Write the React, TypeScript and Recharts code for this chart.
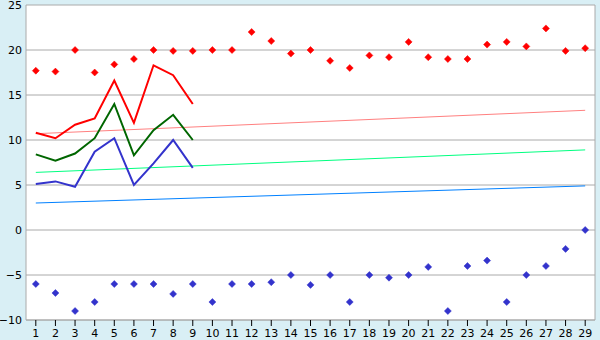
import React from 'react';
import {
  ComposedChart,
  Line,
  Scatter,
  XAxis,
  YAxis,
  CartesianGrid,
  ReferenceLine,
} from 'recharts';

const days = [
  1, 2, 3, 4, 5, 6, 7, 8, 9, 10, 11, 12, 13, 14, 15, 16, 17, 18, 19, 20, 21, 22, 23, 24, 25, 26, 27, 28, 29,
];

const maxPoints = [
  17.7, 17.6, 20.0, 17.5, 18.4, 19.0, 20.0, 19.9, 19.9, 20.0, 20.0, 22.0, 21.0, 19.6, 20.0,
  18.8, 18.0, 19.4, 19.2, 20.9, 19.2, 19.0, 19.0, 20.6, 20.9, 20.4, 22.4, 19.9, 20.2,
];

const minPoints = [
  -6.0, -7.0, -9.0, -8.0, -6.0, -6.0, -6.0, -7.1, -6.0, -8.0, -6.0, -6.0, -5.8, -5.0, -6.1,
  -5.0, -8.0, -5.0, -5.3, -5.0, -4.1, -9.0, -4.0, -3.4, -8.0, -5.0, -4.0, -2.1, 0.0,
];

const highLine = [10.8, 10.2, 11.7, 12.4, 16.6, 11.9, 18.3, 17.2, 14.0];
const meanLine = [8.4, 7.7, 8.5, 10.2, 14.0, 8.3, 11.1, 12.8, 10.0];
const lowLine = [5.1, 5.4, 4.8, 8.7, 10.2, 5.0, 7.4, 10.0, 6.9];

// trend lines: value at the first and the last day
const trendHigh = [10.7, 13.3];
const trendMean = [6.4, 8.9];
const trendLow = [3.0, 4.9];

const yTicks = [-10, -5, 0, 5, 10, 15, 20, 25];

const lastDay = days[days.length - 1];

const rows = days.map((d, i) => ({
  day: d,
  max: maxPoints[i],
  min: minPoints[i],
  high: i < highLine.length ? highLine[i] : null,
  mean: i < meanLine.length ? meanLine[i] : null,
  low: i < lowLine.length ? lowLine[i] : null,
  tHigh: d === 1 ? trendHigh[0] : d === lastDay ? trendHigh[1] : null,
  tMean: d === 1 ? trendMean[0] : d === lastDay ? trendMean[1] : null,
  tLow: d === 1 ? trendLow[0] : d === lastDay ? trendLow[1] : null,
}));

const Marker = (color: string) => (props: any) => {
  const { cx, cy } = props;
  if (cx == null || cy == null) return null;
  const r = 3.5;
  return (
    <path
      d={`M${cx},${cy - r} L${cx + r},${cy} L${cx},${cy + r} L${cx - r},${cy} Z`}
      fill={color}
      stroke={color}
      strokeWidth={0.5}
    />
  );
};

const tickFont = { fontFamily: 'DejaVu Sans', fontSize: 11, fill: '#000' };

export default function App() {
  return (
    <div style={{ position: 'absolute', left: 0, top: 0, width: 600, height: 340, background: '#d9eff5' }}>
      <ComposedChart
        width={600}
        height={340}
        data={rows}
        margin={{ top: 5, right: 5, left: 0, bottom: 0 }}
      >
        <CartesianGrid vertical={false} stroke="#aaaaaa" fill="#ffffff" />
        <XAxis
          dataKey="day"
          type="number"
          domain={[0.5, 29.5]}
          ticks={days}
          interval={0}
          height={20}
          tickSize={6}
          tickMargin={3}
          axisLine={{ stroke: '#aaaaaa' }}
          tickLine={{ stroke: '#000' }}
          tick={tickFont}
        />
        <YAxis
          type="number"
          domain={[-10, 25]}
          ticks={yTicks}
          interval={0}
          width={26}
          tickSize={0}
          tickMargin={4}
          axisLine={{ stroke: '#aaaaaa' }}
          tickLine={false}
          tick={tickFont}
          tickFormatter={(v: number) => (v < 0 ? `\u2212${Math.abs(v)}` : `${v}`)}
        />
        <ReferenceLine x={29.5} stroke="#aaaaaa" />
        <Line dataKey="tHigh" stroke="#ff8080" strokeWidth={1} dot={false} connectNulls isAnimationActive={false} />
        <Line dataKey="tMean" stroke="#00ff80" strokeWidth={1} dot={false} connectNulls isAnimationActive={false} />
        <Line dataKey="tLow" stroke="#0080ff" strokeWidth={1} dot={false} connectNulls isAnimationActive={false} />
        <Line dataKey="high" stroke="#ff0000" strokeWidth={2} dot={false} isAnimationActive={false} />
        <Line dataKey="mean" stroke="#006600" strokeWidth={2} dot={false} isAnimationActive={false} />
        <Line dataKey="low" stroke="#3333cc" strokeWidth={2} dot={false} isAnimationActive={false} />
        <Scatter dataKey="max" shape={Marker('#ff0000')} isAnimationActive={false} />
        <Scatter dataKey="min" shape={Marker('#3333cc')} isAnimationActive={false} />
      </ComposedChart>
    </div>
  );
}
